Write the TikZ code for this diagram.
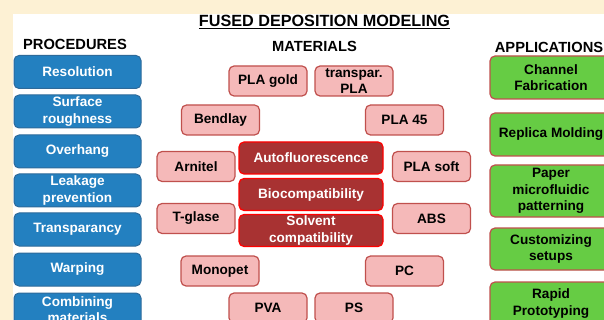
\documentclass[tikz,border=0pt]{standalone}
\usepackage{fontspec}
\setmainfont{Liberation Sans}
\usepackage{xcolor}
\usetikzlibrary{positioning}
\definecolor{cream}{HTML}{FDF1D4}
\definecolor{procblue}{HTML}{2380C0}
\definecolor{procedge}{HTML}{2D6A9A}
\definecolor{matpink}{HTML}{F5B9B9}
\definecolor{matedge}{HTML}{C0504D}
\definecolor{propred}{HTML}{A83232}
\definecolor{appgreen}{HTML}{66CC44}

\begin{document}
\begin{tikzpicture}[x=1pt,y=-1pt,
    every node/.style={font=\fontsize{13.6}{16.5}\selectfont\bfseries, align=center, inner sep=0pt},
    heading/.style={font=\fontsize{14.7}{16}\selectfont\bfseries, anchor=base},
    procbox/.style={draw=procedge, fill=procblue, text=white, rounded corners=5pt, line width=1pt,
      minimum width=127pt, minimum height=33pt},
    matbox/.style={draw=matedge, fill=matpink, rounded corners=5pt, line width=1.2pt,
      minimum width=78pt, minimum height=30pt},
    propbox/.style={draw=red, fill=propred, text=white, rounded corners=5pt, line width=1.2pt,
      minimum width=144pt, minimum height=32pt},
    appbox/.style={draw=matedge, fill=appgreen, rounded corners=5pt, line width=1.2pt,
      minimum width=122pt, minimum height=43pt}]

    \useasboundingbox (0,0) rectangle (604,320);
    \clip (0,0) rectangle (604,320);
    \fill[cream] (0,0) rectangle (604,320);
    \fill[white] (13,14) rectangle (604,320);

    % Titulos
    \node[heading, font=\fontsize{16.2}{18}\selectfont\bfseries] (title) at (324.5,27) {\underline{FUSED DEPOSITION MODELING}};
    \node[heading] (proch) at (75,49.5) {PROCEDURES};
    \node[heading] (math) at (314.5,52) {MATERIALS};
    \node[heading] (apph) at (549,52.3) {APPLICATIONS};

    % Procedimentos
    \node[procbox] (res) at (77.5,72) {Resolution};
    \node[procbox] (surf) at (77.5,111.5) {Surface\\roughness};
    \node[procbox] (over) at (77.5,151.5) {Overhang};
    \node[procbox] (leak) at (77.5,190.5) {Leakage\\prevention};
    \node[procbox] (transp) at (77.5,229.5) {Transparancy};
    \node[procbox] (warp) at (77.5,269.5) {Warping};
    \node[procbox] (comb) at (77.5,309.5) {Combining\\materials};

    % Materiais
    \node[matbox] (plagold) at (268,81) {PLA gold};
    \node[matbox] (platr) at (354,81) {transpar.\\PLA};
    \node[matbox] (bendlay) at (220.5,120) {Bendlay};
    \node[matbox] (pla45) at (404.5,120) {PLA 45};
    \node[matbox] (arnitel) at (196,166.5) {Arnitel};
    \node[matbox] (plasoft) at (431.5,166.5) {PLA soft};
    \node[matbox] (tglase) at (196,218.5) {T-glase};
    \node[matbox] (abs) at (431.5,218.5) {ABS};
    \node[matbox] (monopet) at (220,271) {Monopet};
    \node[matbox] (pc) at (404.5,271) {PC};
    \node[matbox] (pva) at (268,308) {PVA};
    \node[matbox] (ps) at (354,308) {PS};

    % Propriedades
    \node[propbox] (autofl) at (311,158) {Autofluorescence};
    \node[propbox] (biocomp) at (311,194.5) {Biocompatibility};
    \node[propbox] (solvent) at (311,230.5) {Solvent\\compatibility};

    % Aplicacoes
    \node[appbox] (channel) at (551,77.5) {Channel\\Fabrication};
    \node[appbox] (replica) at (551,134.5) {Replica Molding};
    \node[appbox, minimum height=52pt] (paper) at (551,191) {Paper\\microfluidic\\patterning};
    \node[appbox, minimum height=42pt] (custom) at (551,249) {Customizing\\setups};
    \node[appbox] (rapid) at (551,303.5) {Rapid\\Prototyping};
\end{tikzpicture}
\end{document}
